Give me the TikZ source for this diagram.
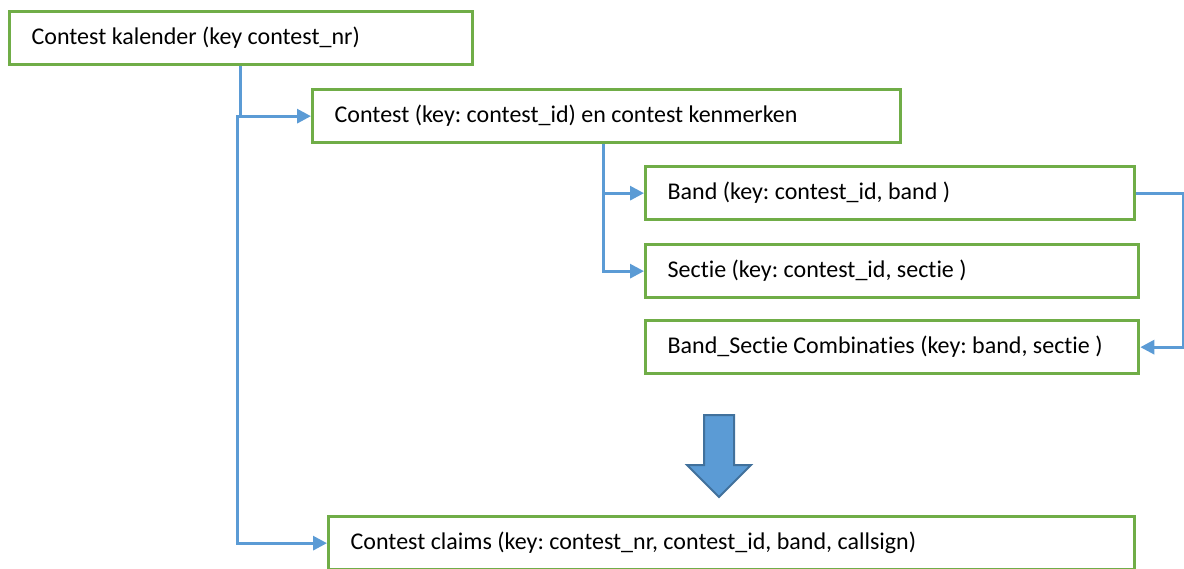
\documentclass[tikz,border=0pt]{standalone}
\usepackage{fontspec}
\setmainfont{Carlito}[Ligatures=NoCommon]
\usetikzlibrary{arrows.meta}
\definecolor{boxgreen}{HTML}{70AD47}
\definecolor{lineblue}{HTML}{5B9BD5}
\definecolor{arrowedge}{HTML}{41719C}
\newcommand{\lbox}[2]{\makebox[#1][l]{#2}}
\begin{document}
\frenchspacing
\begin{tikzpicture}[x=1pt,y=-1pt,
  entity/.style={draw=boxgreen,line width=3.3pt,anchor=north west,rectangle,
    minimum height=53pt,inner xsep=22pt,inner ysep=0pt,
    font=\fontsize{24}{28}\selectfont},
  conn/.style={draw=lineblue,line width=3pt},
  tip/.style={-{Triangle[length=14pt,width=14pt]}},
  bigarrow/.style={fill=lineblue,draw=arrowedge,line width=2pt,line join=miter}]
\useasboundingbox (0,0) rectangle (1184,568);
\node[entity] (kal) at (8,10) {\lbox{419pt}{Contest kalender (key contest\_nr)}};
\node[entity] (con) at (311,88) {\lbox{544pt}{Contest (key: contest\_id) en contest kenmerken}};
\node[entity] (band) at (644,165) {\lbox{445pt}{Band (key: contest\_id, band )}};
\node[entity] (sec) at (644,243) {\lbox{449pt}{Sectie (key: contest\_id, sectie )}};
\node[entity] (bsc) at (644,319) {\lbox{449pt}{Band\_Sectie Combinaties (key: band, sectie )}};
\node[entity] (cl) at (327,515) {\lbox{762pt}{Contest claims (key: contest\_nr, contest\_id, band, callsign)}};
\coordinate (split) at (237,115);
\draw[conn,tip] ([xshift=232pt]kal.south west) |- (con.west);
\draw[conn,tip] (split) |- (cl.west);
\draw[conn,tip] ([xshift=292pt]con.south west) |- (band.west);
\draw[conn,tip] ([xshift=292pt]con.south west) |- (sec.west);
\draw[conn,tip] (band.east) -- ++(47,0) |- (bsc.east);
\path[bigarrow] (704,415) -- (734,415) -- (734,465) -- (751,465) -- (719,497)
  -- (687,465) -- (704,465) -- cycle;
\end{tikzpicture}
\end{document}
